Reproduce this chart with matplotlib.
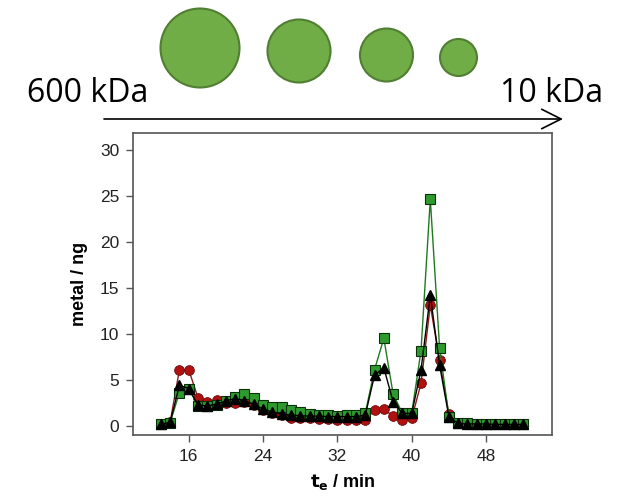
import matplotlib.pyplot as plt
import numpy as np
from matplotlib.patches import Circle, FancyArrowPatch

# elution time (min), one fraction per minute
t_e = list(range(13, 53))

# metal content per fraction (ng)
red_metal = [0.15, 0.4, 6.1, 6.1, 3.0, 2.6, 2.8, 2.5, 2.5, 2.6,
             2.25, 1.7, 1.35, 1.15, 0.9, 0.9, 0.8, 0.75, 0.7, 0.6,
             0.6, 0.6, 0.65, 1.7, 1.8, 1.05, 0.6, 0.8, 4.6, 13.1,
             7.1, 1.3, 0.25, 0.2, 0.2, 0.2, 0.15, 0.15, 0.15, 0.15]
green_metal = [0.15, 0.35, 3.6, 4.0, 2.2, 2.1, 2.3, 2.7, 3.15, 3.45,
               3.05, 2.25, 2.05, 2.0, 1.7, 1.45, 1.3, 1.15, 1.15, 1.05,
               1.15, 1.15, 1.35, 6.1, 9.5, 3.45, 1.35, 1.35, 8.15, 24.6,
               8.5, 1.0, 0.25, 0.25, 0.2, 0.2, 0.2, 0.15, 0.15, 0.15]
black_metal = [0.15, 0.4, 4.4, 4.05, 2.25, 2.15, 2.35, 2.7, 2.95, 2.7,
               2.35, 1.8, 1.5, 1.3, 1.15, 1.1, 1.05, 1.05, 1.0, 1.0,
               1.0, 1.0, 1.15, 5.5, 6.3, 2.6, 1.35, 1.35, 6.05, 14.2,
               6.6, 1.0, 0.25, 0.2, 0.2, 0.2, 0.15, 0.15, 0.15, 0.15]

x_ticks = [16, 24, 32, 40, 48]
y_ticks = [0, 5, 10, 15, 20, 25, 30]

fig = plt.figure(figsize=(6.28, 5.03), dpi=100)

# --- size cartoon on top (pixel coords of the figure) ---
deco = fig.add_axes([0, 0, 1, 1])
deco.set_xlim(0, 628)
deco.set_ylim(503, 0)
deco.axis('off')
# (x centre, y centre, radius)
blobs = [(200, 48, 39.5), (299, 51, 31.5), (386.5, 55, 26.5), (458.5, 57.5, 18.5)]
for cx, cy, r in blobs:
    deco.add_patch(Circle((cx, cy), r, facecolor='#70ad47', edgecolor='#507e32', lw=1.5))
deco.text(27, 102, '600 kDa', fontsize=23, family='Open Sans', ha='left', va='baseline')
deco.text(603, 102, '10 kDa', fontsize=23, family='Open Sans', ha='right', va='baseline')
deco.add_patch(FancyArrowPatch((104, 119), (563, 119), arrowstyle='->,head_length=14,head_width=7',
                               color='black', lw=1.2, mutation_scale=1, shrinkA=0, shrinkB=0))

# --- chromatogram ---
ax = fig.add_axes([133 / 628, 68 / 503, 419 / 628, 302 / 503])
ax.plot(t_e, green_metal, '-s', color='#1f7a1f', lw=1, ms=6.5,
        mfc='#2e9a2e', mec='#0a300a', mew=0.8)
ax.plot(t_e, black_metal, '-^', color='black', lw=1, ms=7,
        mfc='black', mec='black')
ax.plot(t_e, red_metal, '-o', color='#8b1a1a', lw=1, ms=7,
        mfc='#b01010', mec='#6a0a0a', mew=0.6, zorder=1.9)

ax.set_xlim(10, 55.1)
ax.set_ylim(-1, 31.8)
ax.set_xticks(x_ticks)
ax.set_yticks(y_ticks)
for s in ax.spines.values():
    s.set_color('#555555')
    s.set_linewidth(1.2)
ax.tick_params(direction='out', length=5, width=1, color='#555555',
               labelsize=12.5, labelcolor='#222222', pad=5)
for lab in ax.get_xticklabels() + ax.get_yticklabels():
    lab.set_family('Liberation Sans')
ax.set_ylabel('metal / ng', fontsize=13, fontweight='bold', family='Liberation Sans', labelpad=8)
ax.set_xlabel(r'$\mathbf{t_e}$ / min', fontsize=13, fontweight='bold', family='Liberation Sans', labelpad=6)

fig.savefig('out.png', dpi=100)
